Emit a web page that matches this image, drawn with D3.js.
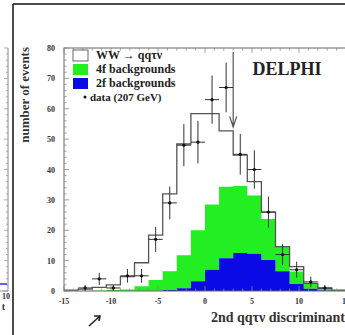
<!DOCTYPE html>
<html>
<head>
<meta charset="utf-8">
<script src="https://cdn.jsdelivr.net/npm/d3@7"></script>
<style>
  body { margin: 0; background: #fff; }
  svg { display: block; }
  text { font-family: "Liberation Serif", "DejaVu Serif", serif; }
</style>
</head>
<body>
<svg width="345" height="335"></svg>
<script>
// bins of 1.5 from -15 to 15
const binEdges = d3.range(20).map((i) => -15 + i * 1.5);
const binWidth = 1.5;

const bg2f = [0, 0, 0, 0, 0, 0, 0, 0.3, 0.9, 3.2, 7.0, 10.8, 12.5, 12.3, 10.2, 6.5, 2.3, 0.7, 0.2, 0];
const bg4f = [0, 0, 0.1, 0.3, 0.5, 1.6, 3.6, 6.2, 10.9, 16.8, 21.5, 23.5, 22.1, 19.1, 13.5, 8.0, 4.1, 1.7, 0.6, 0.3];
const wwSignal = [0.3, 0.6, 1.1, 1.7, 4.2, 7.7, 14.8, 25.5, 36.6, 38.4, 29.9, 18.4, 10.1, 4.6, 2.3, 0.1, 1.6, 0.1, 0.1, 0];
const dataCounts = [0, 1, 4, 1, 5, 5, 17, 29, 48, 49, 63, 67, 45, 40, 26, 12, 7, 3, 1, 0];

const xTicks = [-15, -10, -5, 0, 5, 10, 15];
const yTicks = [0, 10, 20, 30, 40, 50, 60, 70, 80];
const legendLabels = ['WW \u2192 qq\u03c4\u03bd', '4f backgrounds', '2f backgrounds', 'data (207 GeV)'];
const cutValue = 3.0;

const svg = d3.select('svg');

const x = d3.scaleLinear().domain([-15, 15]).range([64, 346]);
const y = d3.scaleLinear().domain([0, 80]).range([291, 48]);

// page bits around the figure
svg.append('line').attr('x1', 13).attr('x2', 345).attr('y1', 4).attr('y2', 4)
  .attr('stroke', '#111').attr('stroke-width', 1.5);
svg.append('line').attr('x1', 13).attr('x2', 13).attr('y1', 4).attr('y2', 335)
  .attr('stroke', '#111').attr('stroke-width', 1.5);

// neighbour figure, cut off on the left
const left = svg.append('g');
left.append('line').attr('x1', 8).attr('x2', 8).attr('y1', 48).attr('y2', 291)
  .attr('stroke', '#888');
left.append('line').attr('x1', 0).attr('x2', 8).attr('y1', 291).attr('y2', 291)
  .attr('stroke', '#888');
left.selectAll('.lt').data(d3.range(0, 81, 2)).enter().append('line')
  .attr('x1', 8).attr('x2', (d) => d % 10 === 0 ? 4 : 6)
  .attr('y1', (d) => y(d)).attr('y2', (d) => y(d))
  .attr('stroke', '#999').attr('stroke-width', 0.8);
left.append('line').attr('x1', 0).attr('x2', 7).attr('y1', 284).attr('y2', 284)
  .attr('stroke', '#2233dd').attr('stroke-width', 1.5);
left.append('text').attr('x', 10).attr('y', 299).attr('text-anchor', 'end')
  .attr('font-size', 8).attr('font-weight', 'bold').attr('fill', '#333').text('10');
left.append('text').attr('x', 5).attr('y', 310).attr('text-anchor', 'end')
  .attr('font-size', 10).attr('font-weight', 'bold').attr('fill', '#333').text('t');
svg.append('path').attr('d', 'M89,326 L100,316 M94,316 L100,316 L99,321')
  .attr('fill', 'none').attr('stroke', '#222').attr('stroke-width', 1.6);

// stacks
const rows = binEdges.map((e, i) => ({ x0: e, b2: bg2f[i], b4: bg4f[i], ww: wwSignal[i] }));
const stack = d3.stack().keys(['b2', 'b4', 'ww'])(rows);

const stepArea = () => d3.area()
  .curve(d3.curveStepAfter)
  .x((d) => x(d.data.x0))
  .y0((d) => y(d[0]))
  .y1((d) => y(d[1]));

const padLayer = (layer) => {
  const last = layer[layer.length - 1];
  const end = [last[0], last[1]];
  end.data = { x0: last.data.x0 + binWidth };
  return layer.concat([end]);
};

const plot = svg.append('g');

// green = 4f on top of 2f
plot.append('path').datum(padLayer(stack[1]))
  .attr('fill', '#22ee22').attr('d', stepArea());
plot.append('path').datum(padLayer(stack[0]))
  .attr('fill', '#0a0ae6').attr('d', stepArea());

// total outline
const totalLine = d3.line()
  .curve(d3.curveStepAfter)
  .x((d) => x(d.data.x0))
  .y((d) => y(d[1]));
plot.append('path').datum(padLayer(stack[2]))
  .attr('fill', 'none').attr('stroke', '#555').attr('stroke-width', 1.3)
  .attr('d', totalLine);

// frame
svg.append('rect').attr('x', x(-15)).attr('y', y(80))
  .attr('width', x(15) - x(-15)).attr('height', y(0) - y(80))
  .attr('fill', 'none').attr('stroke', '#666').attr('stroke-width', 1);

const frame = svg.append('g').attr('stroke', '#888').attr('stroke-width', 0.8);
const xMinor = d3.range(-15, 15.1, 1);
frame.selectAll('.xb').data(xMinor).enter().append('line')
  .attr('x1', (d) => x(d)).attr('x2', (d) => x(d))
  .attr('y1', y(0)).attr('y2', (d) => y(0) - (d % 5 === 0 ? 5 : 2.5));
frame.selectAll('.xt').data(xMinor).enter().append('line')
  .attr('x1', (d) => x(d)).attr('x2', (d) => x(d))
  .attr('y1', y(80)).attr('y2', (d) => y(80) + (d % 5 === 0 ? 5 : 2.5));
const yMinor = d3.range(0, 80.1, 2);
frame.selectAll('.yl').data(yMinor).enter().append('line')
  .attr('y1', (d) => y(d)).attr('y2', (d) => y(d))
  .attr('x1', x(-15)).attr('x2', (d) => x(-15) + (d % 10 === 0 ? 5 : 2.5));

// axes labels
svg.append('g').selectAll('text').data(xTicks).enter().append('text')
  .attr('x', (d) => x(d)).attr('y', 304).attr('text-anchor', 'middle')
  .attr('font-size', 8).attr('font-weight', 'bold').attr('fill', '#333')
  .text((d) => d);
svg.append('g').selectAll('text').data(yTicks).enter().append('text')
  .attr('x', 55).attr('y', (d) => y(d) + 3).attr('text-anchor', 'end')
  .attr('font-size', 8).attr('font-weight', 'bold').attr('fill', '#333')
  .text((d) => d);

svg.append('text').attr('transform', 'translate(29,47) rotate(-90)')
  .attr('text-anchor', 'end').attr('font-size', 13).attr('font-weight', 'bold')
  .attr('fill', '#333').text('number of events');
svg.append('text').attr('x', 345).attr('y', 322).attr('text-anchor', 'end')
  .attr('font-size', 14).attr('font-weight', 'bold').attr('fill', '#333')
  .text('2nd qq\u03c4\u03bd discriminant');

svg.append('text').attr('x', 287).attr('y', 75).attr('text-anchor', 'middle')
  .attr('font-size', 18).attr('font-weight', 'bold').attr('fill', '#222')
  .text('DELPHI');

// cut arrow
svg.append('path')
  .attr('d', `M${x(cutValue)},${y(80) + 4} L${x(cutValue)},${y(54)} M${x(cutValue) - 3.5},${y(57.5)} L${x(cutValue)},${y(54)} L${x(cutValue) + 3.5},${y(57.5)}`)
  .attr('fill', 'none').attr('stroke', '#555').attr('stroke-width', 1.2);

// data points
const pts = dataCounts.map((n, i) => ({ c: binEdges[i] + binWidth / 2, n: n })).filter((d) => d.n > 0);
const dataG = svg.append('g').attr('stroke', '#333').attr('stroke-width', 1);
dataG.selectAll('.ev').data(pts).enter().append('line')
  .attr('x1', (d) => x(d.c)).attr('x2', (d) => x(d.c))
  .attr('y1', (d) => y(d.n + Math.sqrt(d.n))).attr('y2', (d) => y(Math.max(0, d.n - Math.sqrt(d.n))));
dataG.selectAll('.eh').data(pts).enter().append('line')
  .attr('x1', (d) => x(d.c - 0.75)).attr('x2', (d) => x(d.c + 0.75))
  .attr('y1', (d) => y(d.n)).attr('y2', (d) => y(d.n));
svg.append('g').selectAll('circle').data(pts).enter().append('circle')
  .attr('cx', (d) => x(d.c)).attr('cy', (d) => y(d.n)).attr('r', 1.6).attr('fill', '#111');

// legend
const legend = svg.append('g');
const swatchColors = ['#fff', '#22ee22', '#0a0ae6'];
swatchColors.forEach((c, i) => {
  legend.append('rect').attr('x', 73).attr('y', 50 + i * 14).attr('width', 15).attr('height', 11)
    .attr('fill', c).attr('stroke', i === 0 ? '#666' : 'none');
});
legendLabels.forEach((t, i) => {
  legend.append('text').attr('x', i === 3 ? 90 : 96).attr('y', 59 + i * 14)
    .attr('font-size', i === 3 ? 11 : 12).attr('font-weight', 'bold').attr('fill', '#222').text(t);
});
legend.append('circle').attr('cx', 85).attr('cy', 97).attr('r', 1.5).attr('fill', '#111');
</script>
</body>
</html>
